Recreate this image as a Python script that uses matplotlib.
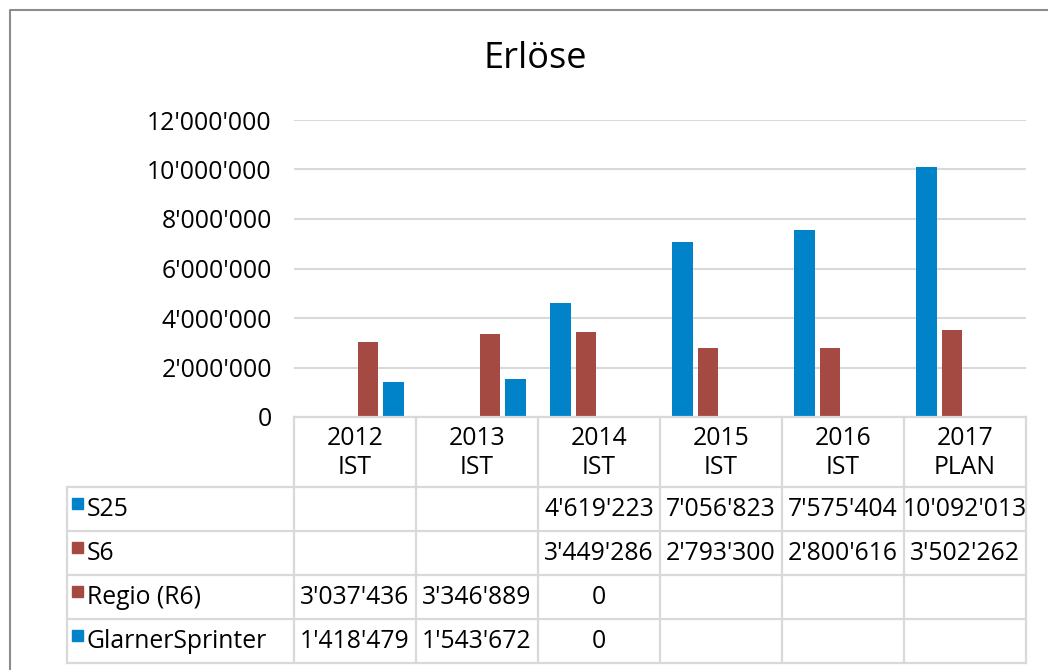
import numpy as np
import matplotlib.pyplot as plt
from matplotlib.ticker import FuncFormatter
from matplotlib.patches import Rectangle

plt.rcParams['font.family'] = ['Open Sans', 'DejaVu Sans']

# chart data
categories = ["2012\nIST", "2013\nIST", "2014\nIST", "2015\nIST", "2016\nIST", "2017\nPLAN"]
series_names = ["S25", "S6", "Regio (R6)", "GlarnerSprinter"]
s25 = [None, None, 4619223, 7056823, 7575404, 10092013]
s6 = [None, None, 3449286, 2793300, 2800616, 3502262]
regio = [3037436, 3346889, 0, None, None, None]
glarner = [1418479, 1543672, 0, None, None, None]

BLUE = "#0083C9"
RED = "#A54A42"
GRID = "#D9D9D9"
colors = [BLUE, RED, RED, BLUE]
all_series = [s25, s6, regio, glarner]
FS = 17.8


def fmt(v):
    return f"{int(v):,}".replace(",", "'")


W, H = 1048, 670
fig = plt.figure(figsize=(W / 100, H / 100), dpi=100)

# plot area in pixel terms
left, right, top, bottom = 294, 1026, 120, 417
ax = fig.add_axes([left / W, 1 - bottom / H, (right - left) / W, (bottom - top) / H])

x = np.arange(len(categories))
step, bw = 0.21, 0.167
for i, (vals, c) in enumerate(zip(all_series, colors)):
    h = [v if v is not None else 0 for v in vals]
    ax.bar(x + (i - 1.5) * step, h, width=bw, color=c, zorder=3)

ax.set_xlim(-0.5, len(categories) - 0.5)
ax.set_ylim(0, 12000000)
ax.set_yticks(np.arange(0, 12000001, 2000000))
ax.yaxis.set_major_formatter(FuncFormatter(lambda v, p: fmt(v)))
ax.tick_params(axis='y', length=0, pad=16, labelsize=FS)
ax.set_xticks([])
ax.grid(axis='y', color=GRID, lw=1.5, zorder=0)
for s in ax.spines.values():
    s.set_visible(False)

fig.text(535 / W, 1 - 59 / H, "Erlöse", ha='center', va='center', fontsize=26)

# data table below the axis, drawn in pixel coords
tab = fig.add_axes([0, 0, 1, 1], zorder=5)
tab.set_xlim(0, W)
tab.set_ylim(H, 0)
tab.axis('off')

col_edges = np.linspace(left, right, len(categories) + 1)
row_edges = [417, 487, 531, 575, 619, 663]
label_left = 67
lc = dict(color=GRID, lw=1.6)

tab.plot([left, right], [row_edges[0]] * 2, **lc)
for ce in col_edges:
    tab.plot([ce, ce], [row_edges[0], row_edges[-1]], **lc)
tab.plot([label_left, label_left], [row_edges[1], row_edges[-1]], **lc)
for re in row_edges[1:]:
    tab.plot([label_left, right], [re, re], **lc)

for j, cat in enumerate(categories):
    cx = (col_edges[j] + col_edges[j + 1]) / 2
    tab.text(cx, (row_edges[0] + row_edges[1]) / 2 + 1, cat, ha='center', va='center',
             fontsize=FS, linespacing=1.2)

for r, (name, vals, c) in enumerate(zip(series_names, all_series, colors)):
    cy = (row_edges[r + 1] + row_edges[r + 2]) / 2
    tab.add_patch(Rectangle((72, cy - 11), 11, 11, color=c))
    tab.text(87, cy + 1, name, ha='left', va='center', fontsize=FS)
    for j, v in enumerate(vals):
        if v is None:
            continue
        cx = (col_edges[j] + col_edges[j + 1]) / 2
        tab.text(cx, cy + 1, fmt(v), ha='center', va='center', fontsize=FS)

# outer chart border (cut off at right/bottom)
tab.plot([10, 10, W + 5], [H + 5, 10, 10], color="#8C8C8C", lw=1.5, clip_on=False)

fig.savefig("out.png", dpi=100)
